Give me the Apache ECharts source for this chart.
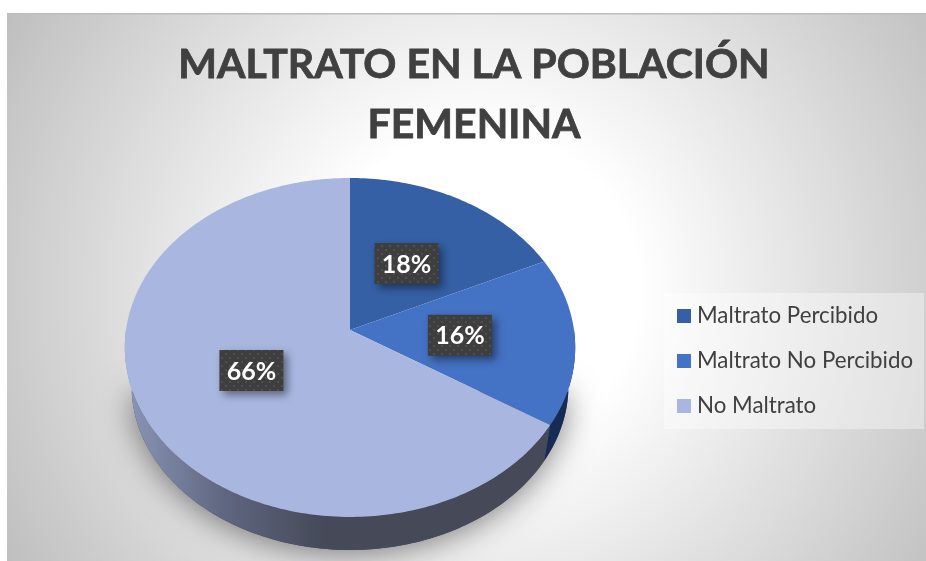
<!DOCTYPE html>
<html>
<head>
<meta charset="utf-8">
<style>
  html, body { margin: 0; background: #fff; }
  #myChart { width: 926px; height: 561px; }
</style>
<script src="https://cdn.jsdelivr.net/npm/echarts@6/dist/echarts.min.js"></script>
</head>
<body>
<div id="myChart"></div>
<script>
var titleText = "MALTRATO EN LA POBLACIÓN\nFEMENINA";
var categories = ["Maltrato Percibido", "Maltrato No Percibido", "No Maltrato"];
var values = [18, 16, 66];
var labels = ["18%", "16%", "66%"];
var topColors = ["#3560a5", "#4472c4", "#a9b7e0"];

// the tilted pie: circle -> screen, keeps the perspective of the original
var apexX = 350, apexY = 330, radX = 224, radY = 167.7, persp = 0.103;
var rimShrink = 0.97, rimDrop = 38.6;
function project(deg, r) {
  var a = deg * Math.PI / 180;
  var X = r * Math.sin(a), Y = r * Math.cos(a);
  var d = 1 + persp * Y;
  return [apexX + radX * X / d, apexY - radY * Y / d];
}
function arcPoints(from, to, lower) {
  var pts = [];
  var n = Math.max(2, Math.ceil(Math.abs(to - from)));
  for (var i = 0; i <= n; i++) {
    var p = project(from + (to - from) * i / n, 1);
    if (lower) {
      // lower rim sits further from the eye, so a bit smaller
      p = [apexX + (p[0] - apexX) * rimShrink, apexY + rimDrop + (p[1] - apexY) * rimShrink];
    }
    pts.push(p);
  }
  return pts;
}

var total = values.reduce(function (s, v) { return s + v; }, 0);
function startAngle(idx) {
  var s = 0;
  for (var i = 0; i < idx; i++) s += values[i];
  return s / total * 360;
}

var dots = document.createElement("canvas");
dots.width = 8;
dots.height = 8;
(function () {
  var c = dots.getContext("2d");
  c.fillStyle = "#3e3e3e";
  c.fillRect(0, 0, 8, 8);
  c.fillStyle = "#4f4f4f";
  c.fillRect(1, 1, 2, 2);
  c.fillRect(5, 5, 2, 2);
})();

function wallFill(idx) {
  if (idx === 2) {
    return new echarts.graphic.LinearGradient(125, 0, 325, 0, [
      { offset: 0, color: "#8b97b8" },
      { offset: 0.5, color: "#5f667f" },
      { offset: 1, color: "#454958" }
    ], true);
  }
  return "#162c57";
}

function renderSlice(idx) {
  return function (params, api) {
    var from = startAngle(idx), to = from + values[idx] / total * 360;
    var kids = [];
    // soft drop shadow, cast by the front part of the lower rim, only once
    if (idx === values.length - 1) {
      kids.push({
        type: "polygon",
        z2: 0,
        shape: { points: arcPoints(98, 262, true) },
        style: {
          fill: "#454958",
          shadowBlur: 32,
          shadowColor: "rgba(0,0,0,0.5)",
          shadowOffsetY: 3
        }
      });
    }
    // side wall only where the rim faces the viewer
    var wf = Math.max(from, 90), wt = Math.min(to, 270);
    if (wt > wf) {
      kids.push({
        type: "polygon",
        z2: 1,
        shape: { points: arcPoints(wf, wt, false).concat(arcPoints(wf, wt, true).reverse()) },
        style: { fill: wallFill(idx) }
      });
    }
    kids.push({
      type: "polygon",
      z2: 5,
      shape: { points: [[apexX, apexY]].concat(arcPoints(from, to, false)) },
      style: { fill: api.visual("color") }
    });
    var c = project((from + to) / 2, 0.49);
    kids.push({
      type: "rect",
      z2: 8,
      shape: { x: c[0] - 32, y: c[1] - 20.5, width: 64, height: 41 },
      style: {
        fill: { image: dots, repeat: "repeat" },
        shadowBlur: 9,
        shadowColor: "rgba(0,0,0,0.45)",
        shadowOffsetX: 4,
        shadowOffsetY: 4
      }
    });
    kids.push({
      type: "text",
      z2: 9,
      x: c[0],
      y: c[1] + 1,
      style: {
        text: labels[idx],
        fill: "#fff",
        font: "bold 25px Lato, 'Open Sans', sans-serif",
        align: "center",
        verticalAlign: "middle"
      }
    });
    return { type: "group", children: kids };
  };
}

var option = {
  animation: false,
  graphic: [{
    type: "rect",
    z: -1,
    shape: { x: 7, y: 13, width: 919, height: 548 },
    style: {
      fill: new echarts.graphic.RadialGradient(480, 290, 545, [
        { offset: 0, color: "#ffffff" },
        { offset: 0.29, color: "#ffffff" },
        { offset: 1, color: "#bfbfbf" }
      ], true)
    }
  }, {
    type: "rect",
    z: -1,
    shape: { x: 7, y: 13, width: 919, height: 1.5 },
    style: { fill: "#bdbdbd" }
  }],
  title: {
    text: titleText,
    left: 469,
    top: 30,
    textAlign: "center",
    textStyle: {
      color: "#404040",
      fontFamily: "Lato",
      fontWeight: "bold",
      fontSize: 41,
      lineHeight: 60,
      textBorderColor: "#404040",
      textBorderWidth: 0.8
    }
  },
  legend: {
    data: categories,
    orient: "vertical",
    left: 664,
    top: 293,
    width: 260,
    padding: [12, 11, 12, 13],
    itemGap: 23,
    itemWidth: 14,
    itemHeight: 14,
    icon: "rect",
    backgroundColor: "rgba(255,255,255,0.38)",
    selectedMode: false,
    textStyle: { color: "#404040", fontFamily: "Lato", fontSize: 22.3, padding: [0, 0, 0, 1] }
  },
  series: categories.map(function (name, i) {
    return {
      type: "custom",
      name: name,
      coordinateSystem: "none",
      itemStyle: { color: topColors[i] },
      data: [values[i]],
      renderItem: renderSlice(i)
    };
  })
};

var myChart = echarts.init(document.getElementById("myChart"));
myChart.setOption(option);
</script>
</body>
</html>
